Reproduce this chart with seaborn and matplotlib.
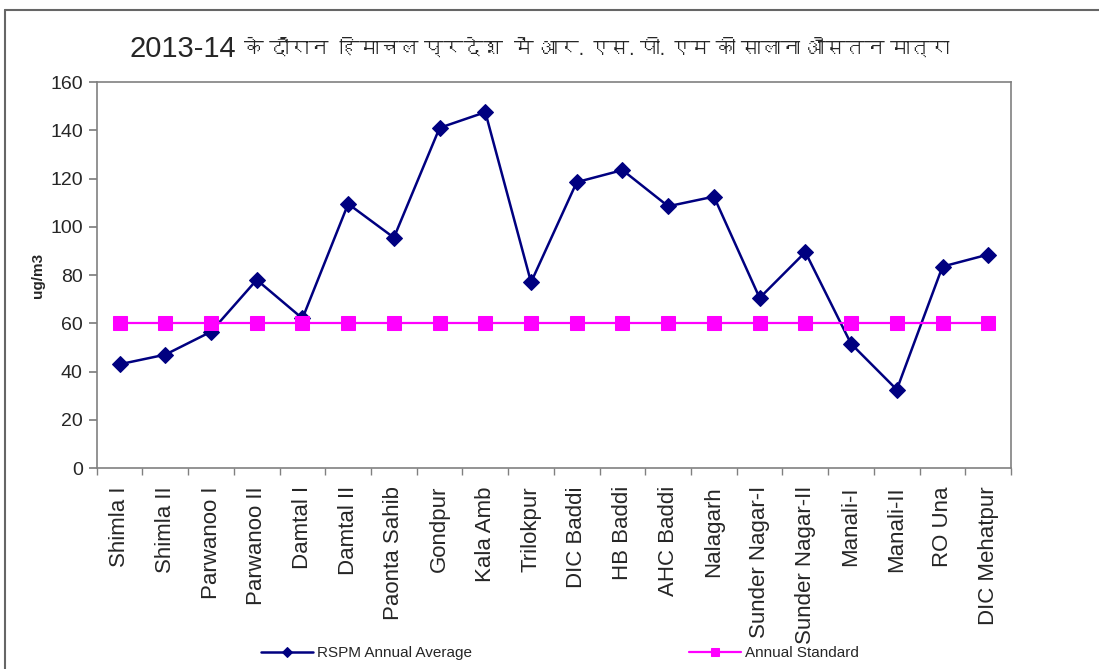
import numpy as np
import pandas as pd
import seaborn as sns
import matplotlib
matplotlib.use("Agg")
import matplotlib.pyplot as plt
from matplotlib import font_manager
from matplotlib.ft2font import FT2Font
from matplotlib.lines import Line2D

stations = ["Shimla I", "Shimla II", "Parwanoo I", "Parwanoo II", "Damtal I",
            "Damtal II", "Paonta Sahib", "Gondpur", "Kala Amb", "Trilokpur",
            "DIC Baddi", "HB Baddi", "AHC Baddi", "Nalagarh", "Sunder Nagar-I",
            "Sunder Nagar-II", "Manali-I", "Manali-II", "RO Una", "DIC Mehatpur"]
rspm_avg = [43, 47, 56.5, 78, 62, 109.5, 95.5, 141, 147.5, 77,
            118.5, 123.5, 108.5, 112.5, 70.5, 89.5, 51.5, 32.5, 83.5, 88.5]
annual_std = [60] * len(stations)
y_ticks = [0, 20, 40, 60, 80, 100, 120, 140, 160]


def find_devanagari_font():
    """Look for an installed font that can draw Devanagari letters."""
    for f in font_manager.fontManager.ttflist:
        try:
            if 0x0915 in FT2Font(f.fname).get_charmap():
                return f.name
        except Exception:
            continue
    return None


sns.set_theme(style="white")
hindi = find_devanagari_font()
families = ["Liberation Sans", "DejaVu Sans"]
if hindi:
    families = ["Liberation Sans", hindi, "DejaVu Sans"]
plt.rcParams["font.family"] = families

df = pd.DataFrame({"pos": np.arange(len(stations)),
                   "Station": stations,
                   "RSPM Annual Average": rspm_avg,
                   "Annual Standard": annual_std})

fig = plt.figure(figsize=(10.99, 6.69), dpi=100)
ax = fig.add_axes([0.088, 0.3004, 0.832, 0.577])

sns.lineplot(data=df, x="pos", y="RSPM Annual Average", ax=ax, color="#000080",
             marker="D", markersize=8, linewidth=1.8, markeredgecolor="#000080",
             label="RSPM Annual Average", legend=False)
sns.lineplot(data=df, x="pos", y="Annual Standard", ax=ax, color="#FF00FF",
             marker="s", markersize=10, linewidth=1.6, markeredgecolor="#FF00FF",
             label="Annual Standard", legend=False)

ax.set_xlim(-0.5, len(stations) - 0.5)
ax.set_ylim(0, 160)
ax.set_yticks(y_ticks)
ax.set_yticklabels([str(v) for v in y_ticks], fontsize=14)
ax.set_xticks(np.arange(len(stations)))
ax.set_xticklabels(stations, rotation=90, fontsize=16)
ax.set_xticks(np.arange(len(stations) + 1) - 0.5, minor=True)
ax.tick_params(axis="x", which="major", length=0, pad=13)
ax.tick_params(axis="x", which="minor", length=5, color="#808080", direction="out",
               bottom=True)
ax.tick_params(axis="y", length=6, color="#808080", direction="out", left=True, pad=4)
ax.set_xlabel("")
ax.set_ylabel("ug/m3", fontsize=11, fontweight="bold", labelpad=4)
for s in ax.spines.values():
    s.set_color("#808080")
    s.set_linewidth(1.2)

fig.text(0.118, 0.927, "2013-14", fontsize=21, ha="left", va="center")
fig.text(0.222, 0.927, "के दौरान  हिमाचल प्रदेश  में आर. एस. पी. एम की सालाना औसतन मात्रा",
         fontsize=14.2, ha="left", va="center")

handles, labels = ax.get_legend_handles_labels()
fig.legend(handles, labels, loc="center", bbox_to_anchor=(0.5095, 0.024), ncol=2,
           frameon=False, fontsize=11, handlelength=3.4, columnspacing=14.2,
           markerscale=0.6, handletextpad=0.25)

# outer frame: only the left and top edges show in the original
fig.add_artist(Line2D([0.0045, 0.0045], [0.0, 0.985], transform=fig.transFigure,
                      color="#666666", linewidth=1.5))
fig.add_artist(Line2D([0.0045, 1.0], [0.985, 0.985], transform=fig.transFigure,
                      color="#666666", linewidth=1.5))

fig.savefig("out.png", dpi=100)
